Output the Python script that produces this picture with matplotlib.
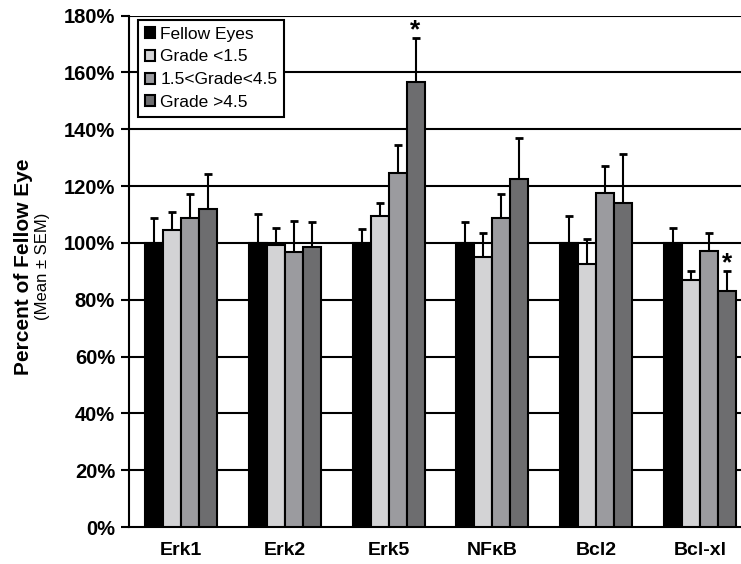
import matplotlib
matplotlib.use('Agg')
import matplotlib.pyplot as plt
from matplotlib.patches import Patch
import numpy as np

plt.rcParams['font.family'] = ['Liberation Sans', 'DejaVu Sans']

# data (percent of fellow eye)
genes = ['Erk1', 'Erk2', 'Erk5', 'NF\u03baB', 'Bcl2', 'Bcl-xl']
groups = ['Fellow Eyes', 'Grade <1.5', '1.5<Grade<4.5', 'Grade >4.5']
colors = ['#000000', '#d3d3d5', '#9b9b9f', '#6d6d6f']

fellow = [100, 100, 100, 100, 100, 100]
low = [104.4, 99.2, 109.4, 95.1, 92.4, 86.9]
mid = [108.6, 96.8, 124.7, 108.6, 117.7, 97.3]
high = [111.8, 98.4, 156.7, 122.6, 114.0, 83.0]

fellow_sem = [8.8, 10.0, 4.7, 7.4, 9.5, 5.1]
low_sem = [6.4, 6.0, 4.6, 8.2, 8.8, 3.2]
mid_sem = [8.6, 10.9, 9.6, 8.7, 9.3, 6.0]
high_sem = [12.3, 9.1, 15.3, 14.2, 17.4, 7.2]

# significant bars: (gene index, group index)
stars = [(2, 3), (5, 3)]

means = [fellow, low, mid, high]
sems = [fellow_sem, low_sem, mid_sem, high_sem]

fig = plt.figure(figsize=(7.41, 5.64), dpi=100)
ax = fig.add_axes([0.1741, 0.0656, 0.8259, 0.9069])

x = np.arange(len(genes))
w = 0.173
for i in range(4):
    pos = x + (i - 1.5) * w
    ax.bar(pos, means[i], w, color=colors[i], edgecolor='black', linewidth=1.5, zorder=3)
    ax.errorbar(pos, means[i], yerr=[np.zeros(len(genes)), sems[i]], fmt='none',
                ecolor='black', elinewidth=1.5, capsize=3, capthick=2, zorder=2)

for g, k in stars:
    px = x[g] + (k - 1.5) * w
    top = means[k][g] + sems[k][g]
    ax.text(px, top - 1.5, '*', ha='center', va='bottom', fontsize=19, fontweight='bold')

ax.set_ylim(0, 180)
ax.set_xlim(-0.5, 5.394)
ax.set_yticks(np.arange(0, 181, 20))
ax.set_yticklabels(['%d%%' % v for v in range(0, 181, 20)], fontsize=14.5, fontweight='bold')
ax.set_xticks(x)
ax.set_xticklabels(genes, fontsize=14, fontweight='bold')
ax.tick_params(axis='x', length=0, pad=11)
ax.tick_params(axis='y', length=6, width=1.5, direction='out', pad=4)

for v in range(20, 181, 20):
    ax.axhline(v, color='black', linewidth=1.5, zorder=1)

ax.spines['top'].set_visible(False)
ax.spines['right'].set_visible(False)
ax.spines['left'].set_linewidth(1.5)
ax.spines['bottom'].set_linewidth(1.5)

fig.text(0.032, 0.5275, 'Percent of Fellow Eye', rotation=90, ha='center', va='center',
         fontsize=15, fontweight='bold')
fig.text(0.058, 0.5275, '(Mean \u00b1 SEM)', rotation=90, ha='center', va='center',
         fontsize=12)

handles = [Patch(facecolor=colors[i], edgecolor='black', linewidth=1.5) for i in range(4)]
leg = ax.legend(handles, groups, loc='upper left', bbox_to_anchor=(0.014, 0.992),
                fontsize=12.5, frameon=True, fancybox=False, framealpha=1,
                handlelength=0.6, handleheight=0.6, handletextpad=0.3,
                labelspacing=0.45, borderpad=0.4, borderaxespad=0)
leg.get_frame().set_edgecolor('black')
leg.get_frame().set_linewidth(1.5)
leg.set_zorder(5)

fig.savefig('out.png', dpi=100)
